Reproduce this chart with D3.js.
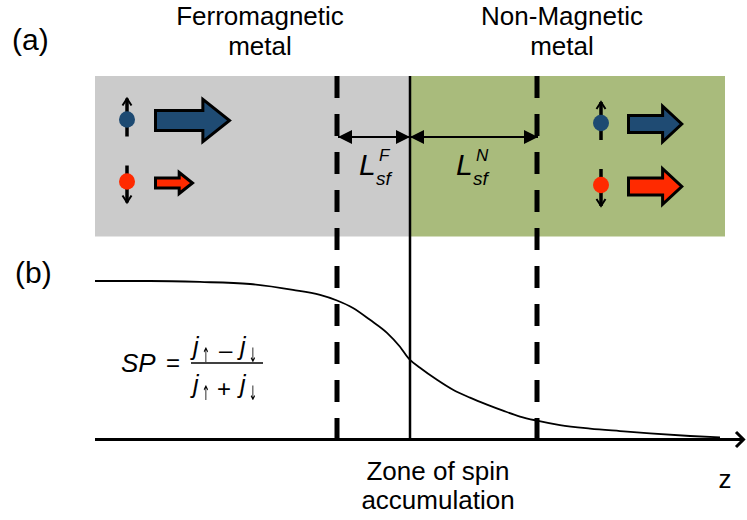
<html><head>
<meta charset="utf-8">
<script type="text/javascript" src="https://cdn.jsdelivr.net/npm/d3@7"></script>
<style>
body{
	margin: 0px;
	background: #fff;
}
text {
	font-family: "Liberation Sans", Arial, sans-serif;
	fill: #000;
}
text.arr { font-family: "DejaVu Sans", sans-serif; }
.it { font-style: italic; }
.curve { fill: none; stroke: #000; stroke-width: 1.8px; }
.dash { stroke: #000; stroke-width: 5px; stroke-dasharray: 22,16; }
.arrowBody { stroke: #000; stroke-width: 3px; stroke-linejoin: miter; }
</style>
<title>Spin accumulation</title>
</head>
<body>
<script>
var width = 747,
    height = 520;

// regions (z in arbitrary units, interface at 0)
var regionNames = ["Ferromagnetic", "Non-Magnetic"];
var regionStart = [-315, 0];
var regionEnd = [0, 315];
var regionColor = ["#cbcbcb", "#a9bb7c"];
// spin diffusion lengths L_sf^F and L_sf^N
var diffLabels = ["F", "N"];
var diffLengths = [73, 127];

// spin polarization curve
var zValues = [-315, -260, -210, -160, -117, -90, -73, -57, -40, -23, -10, -2, 0,
               10, 27, 43, 60, 77, 93, 110, 127, 150, 180, 210, 240, 280, 310];
var spValues = [1.000, 1.000, 0.994, 0.981, 0.944, 0.912, 0.877, 0.830, 0.755, 0.673, 0.585, 0.516, 0.503,
                0.453, 0.377, 0.314, 0.264, 0.220, 0.182, 0.145, 0.119, 0.091, 0.069, 0.053, 0.038, 0.022, 0.013];

// spin currents (up, down) in each metal
var spinUpCurrent = [1.0, 0.72];
var spinDownCurrent = [0.5, 0.72];

var x = d3.scaleLinear().domain([-315, 335]).range([95, 745]);
var y = d3.scaleLinear().domain([0, 1]).range([439.5, 281]);
var cur = d3.scaleLinear().domain([0, 1]).range([0, 74]);

var svg = d3.select("body").append("svg")
    .attr("width", width)
    .attr("height", height);

var defs = svg.append("defs");
defs.append("filter").attr("id", "gray")
	.append("feColorMatrix").attr("type", "saturate").attr("values", 0);

var panelTop = 76, panelBottom = 236.5;

// (a) panel backgrounds
svg.selectAll("rect.region").data(regionNames).enter().append("rect")
	.attr("class", "region")
	.attr("x", function(d, i){ return x(regionStart[i]); })
	.attr("y", panelTop)
	.attr("width", function(d, i){ return x(regionEnd[i]) - x(regionStart[i]); })
	.attr("height", panelBottom - panelTop)
	.attr("fill", function(d, i){ return regionColor[i]; });

// titles
var titleX = [x(-150), x(152)];
regionNames.forEach(function(name, i){
	svg.append("text").text(name)
		.attr("x", titleX[i]).attr("y", 25)
		.attr("text-anchor", "middle").attr("font-size", 26);
	svg.append("text").text("metal")
		.attr("x", titleX[i]).attr("y", 55)
		.attr("text-anchor", "middle").attr("font-size", 26);
});
svg.append("text").text("(a)").attr("x", 12).attr("y", 50).attr("font-size", 30);
svg.append("text").text("(b)").attr("x", 15).attr("y", 283).attr("font-size", 30);

// spin icons and current arrows
function spin(cx, cy, up, color){
	var top = up ? cy - 21 : cy - 16,
	    bot = up ? cy + 17 : cy + 21;
	svg.append("line").attr("x1", cx).attr("x2", cx).attr("y1", top).attr("y2", bot)
		.attr("stroke", "#000").attr("stroke-width", 3.5);
	var tip = up ? top : bot, s = up ? 1 : -1;
	svg.append("path")
		.attr("d", "M" + (cx - 4.5) + "," + (tip + 7 * s) + "L" + cx + "," + tip + "L" + (cx + 4.5) + "," + (tip + 7 * s))
		.attr("fill", "none").attr("stroke", "#000").attr("stroke-width", 2);
	svg.append("ellipse").attr("cx", cx).attr("cy", cy).attr("rx", 8).attr("ry", 8.3)
		.attr("fill", color);
}
function bigArrow(x0, yc, L, k, color){
	var bh = 0.27 * L * k, hh = 0.57 * L * k, hl = 0.36 * L;
	var p = d3.path();
	p.moveTo(x0, yc - bh / 2);
	p.lineTo(x0 + L - hl, yc - bh / 2);
	p.lineTo(x0 + L - hl, yc - hh / 2);
	p.lineTo(x0 + L, yc);
	p.lineTo(x0 + L - hl, yc + hh / 2);
	p.lineTo(x0 + L - hl, yc + bh / 2);
	p.lineTo(x0, yc + bh / 2);
	p.closePath();
	svg.append("path").attr("class", "arrowBody").attr("d", p.toString()).attr("fill", color);
}
var spinX = [127, 601], arrowX = [155.5, 628.5], thick = [1, 1.18];
var upY = [119.5, 123], downY = [181.5, 185];
[0, 1].forEach(function(i){
	spin(spinX[i], upY[i], true, "#1d4a72");
	spin(spinX[i], downY[i], false, "#ff2a00");
	bigArrow(arrowX[i], upY[i] + 1, cur(spinUpCurrent[i]), thick[i], "#1f4b73");
	bigArrow(arrowX[i], downY[i] + 1.5, cur(spinDownCurrent[i]), thick[i], "#ff2a00");
});

// dashed lines at the diffusion lengths
var dashZ = [-diffLengths[0], diffLengths[1]];
svg.selectAll("line.dash").data(dashZ).enter().append("line")
	.attr("class", "dash")
	.attr("x1", function(d){ return x(d); }).attr("x2", function(d){ return x(d); })
	.attr("y1", panelTop).attr("y2", 438);

// interface
svg.append("line").attr("x1", x(0)).attr("x2", x(0)).attr("y1", panelTop).attr("y2", 440)
	.attr("stroke", "#000").attr("stroke-width", 2.5);

// double arrows for L_sf
defs.append("marker").attr("id", "tri")
	.attr("viewBox", "0 0 14 14").attr("refX", 14).attr("refY", 7)
	.attr("markerWidth", 14).attr("markerHeight", 14)
	.attr("markerUnits", "userSpaceOnUse")
	.attr("orient", "auto-start-reverse")
	.append("path").attr("d", "M0,0L14,7L0,14Z").attr("fill", "#000");
dashZ.forEach(function(d){
	svg.append("line")
		.attr("x1", x(d) + 1).attr("x2", x(0))
		.attr("y1", 137).attr("y2", 137)
		.attr("stroke", "#000").attr("stroke-width", 2)
		.attr("marker-start", "url(#tri)").attr("marker-end", "url(#tri)");
});
var lX = [359, 456];
diffLabels.forEach(function(s, i){
	svg.append("text").attr("class", "it").text("L").attr("x", lX[i]).attr("y", 175).attr("font-size", 30);
	svg.append("text").attr("class", "it").text("sf").attr("x", lX[i] + 17).attr("y", 185).attr("font-size", 19);
	svg.append("text").attr("class", "it").text(s).attr("x", lX[i] + 20).attr("y", 161).attr("font-size", 17);
});

// (b) spin polarization curve
var pts = zValues.map(function(z, i){ return [z, spValues[i]]; });
svg.append("path").datum(pts).attr("class", "curve")
	.attr("d", d3.line().x(function(d){ return x(d[0]); }).y(function(d){ return y(d[1]); })
		.curve(d3.curveMonotoneX));

// z axis with arrow
svg.append("line").attr("x1", x(-315)).attr("x2", x(335) - 1).attr("y1", y(0)).attr("y2", y(0))
	.attr("stroke", "#000").attr("stroke-width", 3);
svg.append("path").attr("d", "M" + (x(335) - 9) + "," + (y(0) - 7.5) + "L" + (x(335) - 1.5) + "," + y(0) + "L" + (x(335) - 9) + "," + (y(0) + 7.5))
	.attr("fill", "none").attr("stroke", "#000").attr("stroke-width", 3);
svg.append("text").text("z").attr("x", 725).attr("y", 488).attr("text-anchor", "middle").attr("font-size", 26);

svg.append("text").text("Zone of spin").attr("x", x(28)).attr("y", 480).attr("text-anchor", "middle").attr("font-size", 26);
svg.append("text").text("accumulation").attr("x", x(28)).attr("y", 509).attr("text-anchor", "middle").attr("font-size", 26);

// SP equation
svg.append("text").attr("class", "it").text("SP").attr("x", 121).attr("y", 372).attr("font-size", 26);
svg.append("text").text("=").attr("x", 166).attr("y", 371).attr("font-size", 24);
svg.append("line").attr("x1", 191).attr("x2", 263).attr("y1", 363).attr("y2", 363)
	.attr("stroke", "#000").attr("stroke-width", 1.5);
function jTerm(xx, yy, arrow){
	svg.append("text").attr("class", "it").text("j").attr("x", xx).attr("y", yy).attr("font-size", 25);
	var ax = xx + 13, ay = yy + 7;
	svg.append("g").attr("filter", "url(#gray)")
		.append("text").attr("class", "arr").text(arrow).attr("x", ax).attr("y", ay)
		.attr("text-anchor", "middle").attr("font-size", 20)
		.attr("transform", "translate(" + ax + "," + ay + ") scale(0.5,1) translate(" + (-ax) + "," + (-ay) + ")");
}
jTerm(193, 355, "\u2191");
svg.append("text").text("\u2013").attr("x", 219).attr("y", 358).attr("font-size", 24);
jTerm(240, 355, "\u2193");
jTerm(193, 393, "\u2191");
svg.append("text").text("+").attr("x", 217).attr("y", 397).attr("font-size", 24);
jTerm(240, 393, "\u2193");
</script>
</body></html>
